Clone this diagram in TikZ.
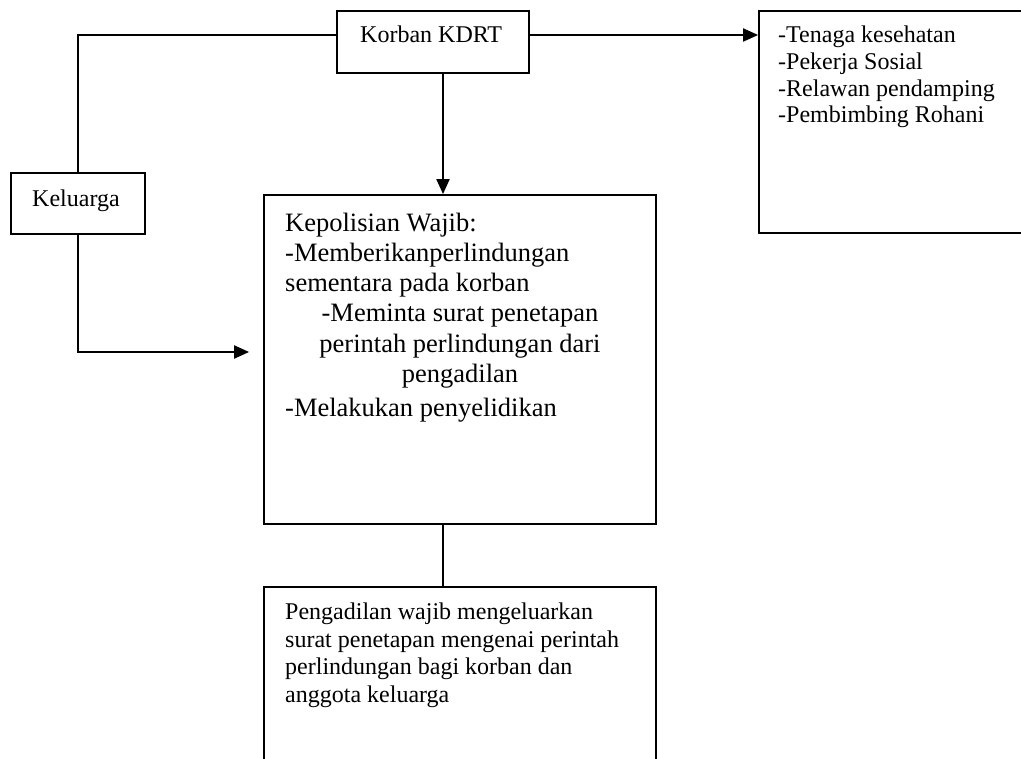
\documentclass[tikz,border=0pt]{standalone}
\usepackage{fontspec}
\setmainfont{Liberation Serif}
\usetikzlibrary{arrows.meta}
\begin{document}
\begin{tikzpicture}[x=1pt,y=-1pt,
  box/.style={draw, rectangle, line width=1.8pt, inner sep=0pt},
  conn/.style={line width=2pt},
  arr/.style={conn, -{Triangle[length=15pt,width=13pt]}},
  txt/.style={inner sep=0pt, font=\fontsize{24}{27.7}\selectfont},
  bigtxt/.style={inner sep=0pt, font=\fontsize{26.5}{30.5}\selectfont}]
\useasboundingbox (0,0) rectangle (1021,759);
\fill[white] (0,0) rectangle (1021,759);
% boxes
\node[box, minimum width=192pt, minimum height=62pt] (korban) at (433,42) {};
\node[box, minimum width=301pt, minimum height=222pt] (tenaga) at (909.5,122) {};
\node[box, minimum width=134pt, minimum height=61pt] (keluarga) at (78,203.5) {};
\node[box, minimum width=392pt, minimum height=329pt] (polisi) at (460,359.5) {};
\node[box, minimum width=392pt, minimum height=213pt] (pengadilan) at (460,693.5) {};
% texts
\node[txt, anchor=base west] (tkorban) at (360,43) {Korban KDRT};
\node[txt, anchor=base west] (tkeluarga) at (32,207) {Keluarga};
\node[txt, anchor=base west] (t1) at (778,43) {-Tenaga kesehatan};
\node[txt, anchor=base west] (t2) at (778,70) {-Pekerja Sosial};
\node[txt, anchor=base west] (t3) at (778,97) {-Relawan pendamping};
\node[txt, anchor=base west] (t4) at (778,123) {-Pembimbing Rohani};
\node[bigtxt, anchor=base west] (p1) at (285,232) {Kepolisian Wajib:};
\node[bigtxt, anchor=base west] (p2) at (285,262) {-Memberikanperlindungan};
\node[bigtxt, anchor=base west] (p3) at (285,292) {sementara pada korban};
\node[bigtxt, anchor=base] (p4) at (460,322) {-Meminta surat penetapan};
\node[bigtxt, anchor=base] (p5) at (460,353) {perintah perlindungan dari};
\node[bigtxt, anchor=base] (p6) at (460,383) {pengadilan};
\node[bigtxt, anchor=base west] (p7) at (285,417) {-Melakukan penyelidikan};
\node[txt, anchor=base west] (g1) at (285,619) {Pengadilan wajib mengeluarkan};
\node[txt, anchor=base west] (g2) at (285,647) {surat penetapan mengenai perintah};
\node[txt, anchor=base west] (g3) at (285,674) {perlindungan bagi korban dan};
\node[txt, anchor=base west] (g4) at (285,702) {anggota keluarga};
% connectors
\coordinate (topy) at (0,35);
\draw[conn] (keluarga.north) -- (keluarga.north |- topy) -- (korban.west |- topy);
\draw[arr] (korban.east |- topy) -- (tenaga.west |- topy);
\draw[arr] ([xshift=10pt]korban.south) -- ([xshift=-17pt]polisi.north);
\coordinate (arry) at (0,352);
\draw[arr] (keluarga.south) |- ([xshift=-14pt]polisi.west |- arry);
\draw[conn] ([xshift=-17pt]polisi.south) -- ([xshift=-17pt]pengadilan.north);
\end{tikzpicture}
\end{document}
